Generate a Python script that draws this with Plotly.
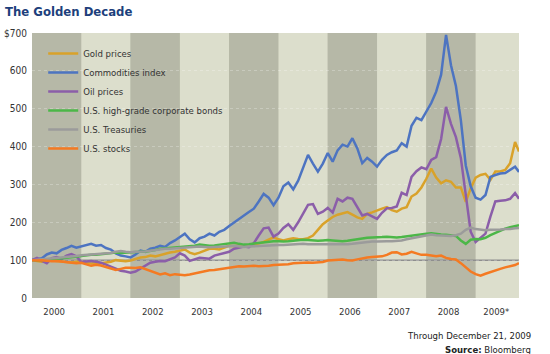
import plotly.graph_objects as go

# sample times (fractional years)
t = [round(2000.0 + i / 10, 2) for i in range(99)] + [2009.88]

gold = [100, 98, 96, 97, 100, 98, 96, 95, 94, 96,
        95, 93, 91, 93, 92, 94, 96, 100, 98, 97,
        99, 103, 107, 108, 112, 110, 114, 117, 120, 122,
        125, 128, 120, 116, 120, 125, 130, 130, 128, 133,
        138, 137, 140, 136, 138, 142, 144, 148, 155, 160,
        155, 152, 155, 158, 156, 155, 158, 165, 180, 195,
        205, 214, 220, 224, 227, 220, 213, 209, 222, 226,
        232, 236, 240, 232, 228, 236, 240, 268, 276, 292,
        315, 342, 318, 303, 311, 307, 292, 292, 254, 290,
        318, 325, 328, 312, 334, 334, 338, 356, 412, 387]

commodities = [100, 102, 105, 115, 120, 118, 127, 132, 138, 133,
               136, 140, 143, 138, 140, 132, 128, 118, 112, 110,
               107, 115, 125, 122, 130, 133, 138, 135, 145, 152,
               160, 170, 155, 147, 158, 162, 170, 165, 175, 180,
               190, 200, 210, 218, 227, 236, 255, 275, 265, 245,
               265, 295, 305, 287, 310, 345, 378, 355, 334, 355,
               383, 360, 390, 405, 400, 422, 395, 356, 370, 360,
               347, 365, 378, 385, 390, 409, 400, 455, 476, 470,
               493, 515, 545, 590, 695, 615, 560, 470, 350, 295,
               265, 260, 272, 320, 325, 329, 330, 338, 347, 333]

oil = [100, 106, 98, 92, 105, 108, 103, 112, 116, 110,
       95, 97, 98, 96, 93, 88, 82, 76, 72, 70,
       67, 70, 78, 85, 93, 96, 98, 97, 101, 107,
       118, 112, 98, 103, 106, 105, 104, 112, 115, 118,
       122, 130, 133, 136, 134, 145, 165, 184, 186, 162,
       170, 185, 195, 180, 200, 225, 246, 248, 222, 228,
       238, 226, 262, 255, 265, 262, 240, 218, 222, 215,
       209, 225, 237, 238, 242, 278, 272, 320, 335, 345,
       340, 365, 372, 420, 505, 460, 425, 370, 270, 175,
       148, 158, 170, 215, 255, 257, 258, 262, 277, 262]

bonds = [100, 99, 100, 101, 102, 103, 105, 106, 107, 109,
         111, 113, 114, 114, 116, 118, 120, 120, 119, 120,
         120, 121, 122, 122, 124, 127, 130, 131, 132, 134,
         135, 136, 137, 138, 141, 139, 138, 139, 141, 142,
         144, 146, 143, 141, 142, 144, 146, 148, 149, 150,
         150, 149, 150, 152, 153, 154, 153, 152, 151, 152,
         153, 152, 151, 150, 151, 153, 156, 158, 159, 160,
         160, 161, 162, 161, 160, 161, 163, 165, 167, 168,
         170, 171, 169, 168, 167, 166, 164, 152, 143, 154,
         156, 155, 159, 166, 172, 178, 183, 187, 190, 192]

treasuries = [100, 101, 102, 103, 104, 105, 107, 108, 110, 111,
              113, 114, 115, 116, 116, 117, 119, 122, 124, 122,
              121, 122, 122, 123, 125, 127, 129, 130, 130, 131,
              132, 133, 133, 134, 136, 135, 134, 135, 135, 136,
              137, 138, 136, 135, 136, 137, 138, 139, 140, 140,
              140, 140, 141, 142, 143, 143, 142, 142, 141, 142,
              142, 142, 141, 141, 142, 143, 145, 147, 148, 149,
              149, 150, 150, 150, 150, 152, 155, 158, 161, 164,
              166, 168, 166, 165, 164, 164, 166, 170, 180, 186,
              182, 180, 179, 180, 180, 181, 182, 182, 184, 185]

stocks = [100, 99, 100, 98, 97, 98, 97, 96, 95, 92,
          93, 88, 85, 88, 86, 82, 78, 74, 77, 80,
          80, 79, 81, 76, 72, 66, 62, 65, 60, 63,
          62, 60, 62, 65, 69, 72, 73, 74, 76, 78,
          82, 84, 84, 83, 84, 85, 84, 84, 85, 87,
          88, 87, 89, 92, 93, 94, 94, 93, 94, 95,
          99, 100, 101, 102, 100, 99, 102, 105, 107, 108,
          108, 110, 114, 120, 121, 115, 117, 122, 118, 114,
          114, 112, 110, 112, 106, 103, 102, 92, 80, 70,
          63, 59, 64, 69, 74, 77, 81, 84, 87, 92]

series = [
    ("Gold prices", gold, "#d9a22a"),
    ("Commodities index", commodities, "#4d74c1"),
    ("Oil prices", oil, "#8b5ea9"),
    ("U.S. high-grade corporate bonds", bonds, "#4cb748"),
    ("U.S. Treasuries", treasuries, "#9b9b9b"),
    ("U.S. stocks", stocks, "#f47a22"),
]

years = list(range(2000, 2010))
year_labels = ["2000", "2001", "2002", "2003", "2004", "2005", "2006", "2007", "2008", "2009*"]
y_ticks = [0, 100, 200, 300, 400, 500, 600, 700]
y_labels = ["0", "100", "200", "300", "400", "500", "600", "$700"]
baseline = 100
x_end = 2009.88

FONT = "Liberation Sans Narrow, Arial Narrow, DejaVu Sans Condensed, Liberation Sans, Arial, sans-serif"

fig = go.Figure()
for name, vals, col in series:
    fig.add_trace(go.Scatter(x=t, y=vals, mode="lines", name=name,
                             line=dict(color=col, width=2.5)))

shapes = []
for i, yr in enumerate(years):
    shapes.append(dict(type="rect", xref="x", yref="paper", x0=yr, x1=min(yr + 1, x_end),
                       y0=0, y1=1, layer="below", line=dict(width=0),
                       fillcolor="#b6b8a7" if i % 2 == 0 else "#dcdecc"))
shapes.append(dict(type="line", xref="paper", yref="y", x0=0, x1=1, y0=baseline, y1=baseline,
                   layer="between", line=dict(color="#8e8e8e", width=1.5)))

tick_x = [yr + 0.45 for yr in years[:-1]] + [years[-1] + 0.42]

fig.update_layout(
    width=550, height=354,
    margin=dict(l=32, r=31, t=33, b=56),
    paper_bgcolor="white", plot_bgcolor="#b6b8a7",
    shapes=shapes,
    font=dict(family=FONT, size=9.5, color="#333333"),
    title=dict(text="<b>The Golden Decade</b>", x=5 / 550, xref="container", xanchor="left",
               y=1 - 11 / 354, yref="container", yanchor="middle",
               font=dict(family=FONT, size=13, color="#1d3f7c")),
    xaxis=dict(range=[2000.0, x_end], tickvals=tick_x, ticktext=year_labels,
               showgrid=False, zeroline=False, showline=False, ticks="",
               automargin=False, ticklabelstandoff=6,
               tickfont=dict(size=9.5, color="#333333")),
    yaxis=dict(range=[0, 700], tickvals=y_ticks, ticktext=y_labels,
               showgrid=True, gridcolor="rgba(255,255,255,0.25)", griddash="dot", gridwidth=1,
               zeroline=False, showline=False, ticks="", ticklabelstandoff=4,
               automargin=False,
               tickfont=dict(size=10, color="#333333")),
    legend=dict(x=0.023, y=0.977, xanchor="left", yanchor="top",
                bgcolor="rgba(0,0,0,0)", borderwidth=0,
                font=dict(family=FONT, size=9.5, color="#333333"),
                itemwidth=30, tracegroupgap=0),
    showlegend=True,
    annotations=[
        dict(text="Through December 21, 2009", xref="paper", yref="paper",
             x=1.028, y=-0.142, xanchor="right", yanchor="middle", showarrow=False,
             font=dict(family=FONT, size=9.5, color="#222222")),
        dict(text="<b>Source:</b> Bloomberg", xref="paper", yref="paper",
             x=1.028, y=-0.195, xanchor="right", yanchor="middle", showarrow=False,
             font=dict(family=FONT, size=9.5, color="#222222")),
    ],
)

fig.write_html("out.html")
